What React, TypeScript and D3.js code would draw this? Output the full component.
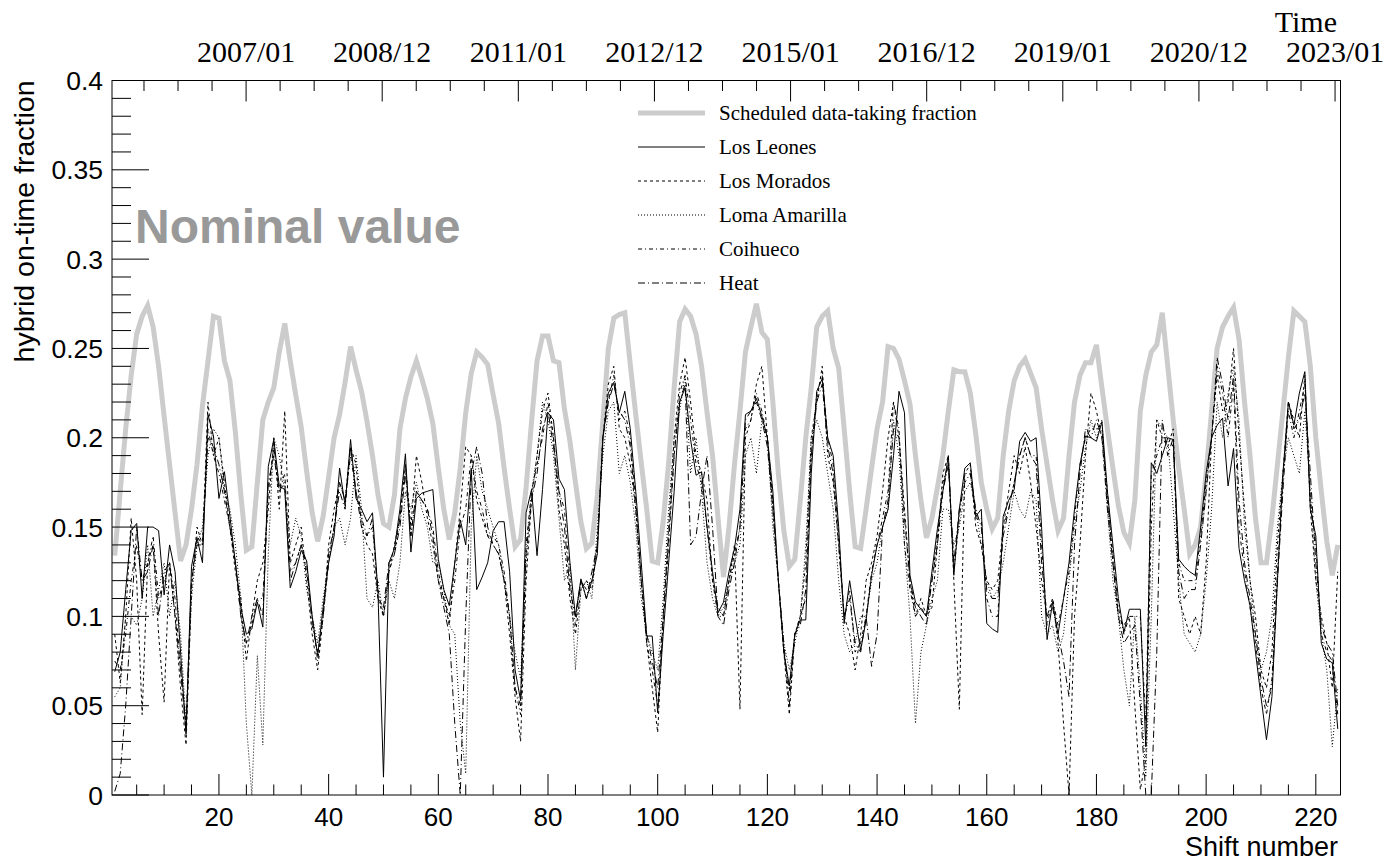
import React from 'react'
import * as d3 from 'd3'

// shift numbers 1..224
const shifts = d3.range(1, 225)

const scheduled = [
  0.134, 0.17, 0.205, 0.235, 0.258, 0.268, 0.274, 0.262, 0.24, 0.212, 0.185, 0.158,
  0.131, 0.14, 0.16, 0.185, 0.218, 0.243, 0.268, 0.267, 0.243, 0.232, 0.203, 0.168,
  0.137, 0.139, 0.175, 0.21, 0.22, 0.228, 0.248, 0.264, 0.243, 0.224, 0.206, 0.181,
  0.158, 0.142, 0.156, 0.178, 0.2, 0.213, 0.231, 0.251, 0.238, 0.226, 0.209, 0.19,
  0.168, 0.152, 0.15, 0.168, 0.205, 0.222, 0.234, 0.243, 0.233, 0.222, 0.208, 0.183,
  0.16, 0.143, 0.158, 0.183, 0.214, 0.236, 0.248, 0.245, 0.241, 0.224, 0.208, 0.183,
  0.16, 0.139, 0.143, 0.172, 0.209, 0.243, 0.257, 0.257, 0.243, 0.242, 0.216, 0.198,
  0.175, 0.153, 0.138, 0.141, 0.168, 0.209, 0.25, 0.267, 0.269, 0.27, 0.241, 0.213,
  0.186, 0.16, 0.131, 0.13, 0.153, 0.186, 0.228, 0.265, 0.272, 0.268, 0.258, 0.24,
  0.214, 0.19, 0.155, 0.122, 0.15, 0.185, 0.215, 0.248, 0.262, 0.275, 0.259, 0.255,
  0.22, 0.18, 0.148, 0.128, 0.132, 0.165, 0.2, 0.228, 0.262, 0.268, 0.271, 0.25,
  0.239, 0.205, 0.17, 0.139, 0.138, 0.16, 0.183, 0.205, 0.22, 0.251, 0.25, 0.244,
  0.232, 0.219, 0.19, 0.165, 0.144, 0.155, 0.172, 0.19, 0.215, 0.238, 0.237, 0.237,
  0.225, 0.202, 0.175, 0.16, 0.149, 0.155, 0.19, 0.215, 0.232, 0.24, 0.244, 0.236,
  0.228, 0.205, 0.185, 0.165, 0.148, 0.155, 0.19, 0.22, 0.235, 0.242, 0.242, 0.252,
  0.228, 0.205, 0.183, 0.162, 0.147, 0.141, 0.165, 0.215, 0.235, 0.248, 0.252, 0.27,
  0.24, 0.21, 0.183, 0.16, 0.135, 0.14, 0.15, 0.18, 0.215, 0.25, 0.262, 0.268,
  0.273, 0.255, 0.22, 0.19, 0.155, 0.13, 0.13, 0.155, 0.185, 0.215, 0.245, 0.271,
  0.268, 0.265, 0.24, 0.2, 0.17, 0.142, 0.123, 0.14
]

const losLeones = [
  0.069, 0.08, 0.115, 0.148, 0.152, 0.11, 0.15, 0.15, 0.148, 0.112, 0.14, 0.125,
  0.08, 0.034, 0.128, 0.144, 0.13, 0.213, 0.201, 0.166, 0.181, 0.156, 0.13, 0.105,
  0.09, 0.093, 0.108, 0.094, 0.184, 0.199, 0.173, 0.171, 0.116, 0.125, 0.137, 0.131,
  0.1, 0.078, 0.105, 0.13, 0.145, 0.183, 0.162, 0.199, 0.166, 0.16, 0.153, 0.158,
  0.113, 0.01, 0.13, 0.138, 0.16, 0.191, 0.136, 0.166, 0.169, 0.17, 0.171, 0.132,
  0.115, 0.106, 0.13, 0.154, 0.14, 0.183, 0.115, 0.122, 0.13, 0.148, 0.153, 0.153,
  0.125, 0.07, 0.053, 0.158, 0.171, 0.134, 0.171, 0.214, 0.21, 0.177, 0.171, 0.13,
  0.1, 0.121, 0.11, 0.12, 0.135, 0.2, 0.225, 0.231, 0.214, 0.226, 0.205, 0.17,
  0.13, 0.089, 0.089, 0.046, 0.09, 0.13, 0.17, 0.22, 0.228, 0.199, 0.179, 0.181,
  0.15, 0.125, 0.102, 0.108, 0.125, 0.138, 0.16, 0.213, 0.215, 0.222, 0.212, 0.2,
  0.17, 0.12, 0.08, 0.061, 0.09, 0.098, 0.098, 0.18, 0.226, 0.233, 0.2, 0.19,
  0.15, 0.096, 0.12, 0.1, 0.081, 0.098, 0.123, 0.14, 0.15, 0.16, 0.19, 0.226,
  0.214, 0.123, 0.108, 0.104, 0.1, 0.125, 0.149, 0.17, 0.19, 0.123, 0.16, 0.183,
  0.186, 0.156, 0.16, 0.096, 0.093, 0.091, 0.156, 0.165, 0.171, 0.198, 0.203, 0.198,
  0.2, 0.15, 0.087, 0.108, 0.09, 0.11, 0.13, 0.16, 0.185, 0.201, 0.2, 0.198,
  0.209, 0.17, 0.14, 0.11, 0.091, 0.104, 0.104, 0.104, 0.027, 0.186, 0.18, 0.19,
  0.2, 0.199, 0.132, 0.128, 0.125, 0.123, 0.15, 0.18, 0.2, 0.207, 0.211, 0.173,
  0.194, 0.138, 0.12, 0.106, 0.08, 0.055, 0.031, 0.055, 0.12, 0.18, 0.22, 0.207,
  0.225, 0.237, 0.16, 0.145, 0.085, 0.076, 0.074, 0.037
]

const losMorados = [
  0.09, 0.063, 0.1, 0.155, 0.12, 0.045, 0.13, 0.14, 0.09, 0.052, 0.13, 0.1,
  0.06, 0.028, 0.115, 0.15, 0.14, 0.22, 0.19, 0.2, 0.175, 0.15, 0.125, 0.11,
  0.075, 0.1, 0.12, 0.13, 0.16, 0.2, 0.16, 0.215, 0.13, 0.14, 0.15, 0.12,
  0.09, 0.07, 0.1, 0.14, 0.16, 0.175, 0.165, 0.195, 0.185, 0.15, 0.14, 0.135,
  0.11, 0.1, 0.125, 0.14, 0.155, 0.185, 0.15, 0.19, 0.175, 0.155, 0.14, 0.12,
  0.11, 0.095, 0.13, 0.16, 0.195, 0.19, 0.165, 0.155, 0.145, 0.14, 0.135, 0.12,
  0.09, 0.055, 0.03, 0.12, 0.165, 0.19, 0.215, 0.225, 0.2, 0.16, 0.14, 0.11,
  0.09, 0.115, 0.12, 0.115, 0.14, 0.2, 0.23, 0.24, 0.205, 0.2, 0.185, 0.16,
  0.12, 0.085, 0.06, 0.035, 0.1, 0.15, 0.2, 0.23, 0.245, 0.22, 0.19, 0.18,
  0.165, 0.12, 0.105, 0.1, 0.12, 0.14, 0.048, 0.2, 0.21, 0.23, 0.24, 0.2,
  0.16, 0.12, 0.08, 0.045, 0.09, 0.1, 0.13, 0.2, 0.22, 0.24, 0.19, 0.175,
  0.14, 0.1, 0.09, 0.07, 0.09, 0.12, 0.13, 0.145, 0.17, 0.2, 0.22, 0.2,
  0.16, 0.12, 0.1, 0.11, 0.1, 0.105, 0.14, 0.18, 0.19, 0.12, 0.048, 0.18,
  0.185, 0.15, 0.14, 0.12, 0.115, 0.12, 0.15, 0.17, 0.19, 0.18, 0.195, 0.175,
  0.15, 0.12, 0.1, 0.11, 0.085, 0.04, 0.0, 0.1, 0.14, 0.19, 0.225, 0.215,
  0.2, 0.17, 0.13, 0.1, 0.095, 0.1, 0.05, 0.003, 0.02, 0.15, 0.21, 0.2,
  0.195, 0.205, 0.11, 0.1, 0.09, 0.1, 0.09, 0.13, 0.2, 0.235, 0.215, 0.22,
  0.25, 0.2, 0.16, 0.12, 0.1, 0.07, 0.06, 0.08, 0.14, 0.18, 0.22, 0.21,
  0.2, 0.235, 0.16, 0.12, 0.1, 0.085, 0.06, 0.125
]

const lomaAmarilla = [
  0.055, 0.06, 0.1, 0.1, 0.095, 0.11, 0.14, 0.1, 0.115, 0.13, 0.1, 0.12,
  0.09, 0.04, 0.11, 0.14, 0.15, 0.19, 0.205, 0.2, 0.17, 0.16, 0.14, 0.11,
  0.04, 0.0, 0.078, 0.028, 0.135, 0.2, 0.19, 0.17, 0.14, 0.155, 0.145, 0.115,
  0.1, 0.085, 0.11, 0.13, 0.15, 0.155, 0.14, 0.155, 0.19, 0.16, 0.11, 0.105,
  0.12, 0.1, 0.12, 0.11, 0.13, 0.17, 0.16, 0.175, 0.16, 0.15, 0.13, 0.13,
  0.115, 0.095, 0.09, 0.04, 0.012, 0.15, 0.19, 0.17, 0.16, 0.15, 0.14, 0.12,
  0.1, 0.08, 0.065, 0.13, 0.17, 0.19, 0.22, 0.21, 0.19, 0.155, 0.12, 0.13,
  0.07, 0.115, 0.12, 0.11, 0.15, 0.19, 0.215, 0.22, 0.18, 0.19, 0.175, 0.15,
  0.11, 0.09, 0.08, 0.07, 0.11, 0.16, 0.2, 0.215, 0.235, 0.18, 0.2, 0.17,
  0.13, 0.11, 0.1, 0.105, 0.12, 0.13, 0.14, 0.19, 0.2, 0.18, 0.21, 0.2,
  0.15, 0.12, 0.085, 0.07, 0.085, 0.1, 0.14, 0.2, 0.21, 0.2, 0.18, 0.16,
  0.12, 0.09, 0.08, 0.085, 0.1, 0.1, 0.12, 0.13, 0.15, 0.16, 0.21, 0.19,
  0.14, 0.1, 0.04, 0.08, 0.095, 0.11, 0.12, 0.16, 0.16, 0.14, 0.15, 0.17,
  0.175, 0.16, 0.14, 0.12, 0.11, 0.115, 0.13, 0.15, 0.17, 0.16, 0.155, 0.17,
  0.165, 0.1, 0.09, 0.095, 0.08, 0.09, 0.12, 0.15, 0.17, 0.195, 0.21, 0.2,
  0.21, 0.16, 0.12, 0.1, 0.07, 0.05, 0.1, 0.06, 0.01, 0.1, 0.21, 0.205,
  0.2, 0.16, 0.12, 0.09, 0.085, 0.08, 0.09, 0.12, 0.16, 0.22, 0.2, 0.225,
  0.24, 0.21, 0.15, 0.12, 0.09, 0.07, 0.08, 0.1, 0.15, 0.18, 0.2, 0.19,
  0.18, 0.215, 0.17, 0.12, 0.09, 0.07, 0.027, 0.06
]

const coihueco = [
  0.075, 0.07, 0.09, 0.12, 0.14, 0.12, 0.13, 0.145, 0.11, 0.12, 0.13, 0.11,
  0.07, 0.04, 0.12, 0.145, 0.14, 0.205, 0.19, 0.18, 0.165, 0.15, 0.13, 0.1,
  0.085, 0.095, 0.11, 0.11, 0.17, 0.195, 0.17, 0.18, 0.125, 0.13, 0.14, 0.125,
  0.1, 0.075, 0.1, 0.13, 0.15, 0.175, 0.165, 0.19, 0.17, 0.155, 0.145, 0.15,
  0.115, 0.1, 0.125, 0.135, 0.155, 0.185, 0.145, 0.17, 0.165, 0.16, 0.15, 0.125,
  0.11, 0.1, 0.12, 0.15, 0.16, 0.19, 0.17, 0.16, 0.145, 0.145, 0.14, 0.125,
  0.1, 0.06, 0.045, 0.14, 0.17, 0.185, 0.2, 0.22, 0.2, 0.17, 0.16, 0.12,
  0.095, 0.12, 0.115, 0.12, 0.14, 0.2, 0.22, 0.235, 0.21, 0.215, 0.2, 0.165,
  0.12, 0.085, 0.07, 0.05, 0.095, 0.14, 0.19, 0.225, 0.235, 0.21, 0.185, 0.175,
  0.15, 0.12, 0.1, 0.1, 0.12, 0.135, 0.15, 0.205, 0.21, 0.225, 0.215, 0.2,
  0.165, 0.12, 0.08, 0.058, 0.09, 0.1, 0.11, 0.19, 0.225, 0.235, 0.2, 0.185,
  0.145, 0.1, 0.115, 0.08, 0.085, 0.1, 0.125, 0.14, 0.155, 0.17, 0.22, 0.205,
  0.14, 0.115, 0.1, 0.105, 0.1, 0.12, 0.145, 0.175, 0.185, 0.125, 0.155, 0.18,
  0.18, 0.155, 0.155, 0.11, 0.1, 0.1, 0.15, 0.16, 0.175, 0.19, 0.2, 0.19,
  0.19, 0.14, 0.095, 0.11, 0.095, 0.11, 0.125, 0.155, 0.185, 0.2, 0.205, 0.205,
  0.205, 0.165, 0.135, 0.105, 0.09, 0.1, 0.1, 0.1, 0.04, 0.18, 0.19, 0.2,
  0.2, 0.195, 0.13, 0.12, 0.12, 0.12, 0.145, 0.175, 0.2, 0.24, 0.225, 0.2,
  0.23, 0.15, 0.125, 0.105, 0.085, 0.06, 0.045, 0.065, 0.125, 0.175, 0.215, 0.2,
  0.215, 0.23, 0.165, 0.14, 0.09, 0.08, 0.075, 0.045
]

const heat = [
  0.002, 0.012, 0.05, 0.1, 0.15, 0.12, 0.125, 0.14, 0.1, 0.125, 0.13, 0.1,
  0.07, 0.035, 0.12, 0.14, 0.14, 0.2, 0.195, 0.185, 0.17, 0.15, 0.13, 0.1,
  0.085, 0.1, 0.11, 0.1, 0.175, 0.19, 0.17, 0.175, 0.12, 0.13, 0.14, 0.13,
  0.095, 0.08, 0.1, 0.135, 0.15, 0.17, 0.16, 0.195, 0.17, 0.15, 0.145, 0.155,
  0.11, 0.105, 0.13, 0.135, 0.15, 0.18, 0.145, 0.17, 0.165, 0.16, 0.145, 0.12,
  0.105, 0.09, 0.04, 0.0, 0.1, 0.18, 0.195, 0.18, 0.15, 0.14, 0.135, 0.12,
  0.1, 0.06, 0.05, 0.135, 0.165, 0.18, 0.205, 0.215, 0.195, 0.17, 0.15, 0.115,
  0.1, 0.12, 0.11, 0.125, 0.14, 0.2, 0.22, 0.23, 0.215, 0.21, 0.195, 0.16,
  0.12, 0.09, 0.075, 0.06, 0.1, 0.145, 0.19, 0.22, 0.23, 0.14, 0.145, 0.17,
  0.19, 0.15, 0.1, 0.095, 0.115, 0.13, 0.15, 0.21, 0.215, 0.22, 0.21, 0.195,
  0.16, 0.12, 0.085, 0.05, 0.09, 0.095, 0.115, 0.19, 0.22, 0.23, 0.195, 0.18,
  0.14, 0.1, 0.11, 0.085, 0.08, 0.1, 0.072, 0.09, 0.15, 0.165, 0.205, 0.2,
  0.155, 0.12, 0.105, 0.1, 0.095, 0.12, 0.14, 0.17, 0.185, 0.13, 0.16, 0.175,
  0.18, 0.16, 0.15, 0.115, 0.11, 0.11, 0.145, 0.16, 0.175, 0.19, 0.2, 0.19,
  0.185, 0.13, 0.1, 0.105, 0.09, 0.075, 0.055, 0.14, 0.18, 0.205, 0.2, 0.21,
  0.2, 0.16, 0.13, 0.1, 0.085, 0.09, 0.095, 0.05, 0.0, 0.0, 0.08, 0.21,
  0.19, 0.2, 0.125, 0.11, 0.115, 0.115, 0.14, 0.17, 0.2, 0.245, 0.23, 0.21,
  0.235, 0.165, 0.13, 0.11, 0.09, 0.065, 0.05, 0.06, 0.12, 0.17, 0.22, 0.205,
  0.21, 0.225, 0.18, 0.13, 0.095, 0.085, 0.08, 0.05
]

const seriesNames = ['Scheduled data-taking fraction', 'Los Leones', 'Los Morados', 'Loma Amarilla', 'Coihueco', 'Heat']
const yTicks = [0, 0.05, 0.1, 0.15, 0.2, 0.25, 0.3, 0.35, 0.4]
const yTickLabels = ['0', '0.05', '0.1', '0.15', '0.2', '0.25', '0.3', '0.35', '0.4']
const xTicks = [20, 40, 60, 80, 100, 120, 140, 160, 180, 200, 220]
const timeTicks = [2007, 2009, 2011, 2013, 2015, 2017, 2019, 2021, 2023]
const timeTickLabels = ['2007/01', '2008/12', '2011/01', '2012/12', '2015/01', '2016/12', '2019/01', '2020/12', '2023/01']

const W = 1387
const H = 865
const plotLeft = 112
const plotRight = 1340.5
const plotTop = 80.5
const plotBottom = 795

const SANS = '"Liberation Sans", Arial, Helvetica, sans-serif'
const SERIF = '"Liberation Serif", "Times New Roman", serif'

const App = () => {
  const x = d3.scaleLinear().domain([0.5, 224.5]).range([plotLeft, plotRight])
  const y = d3.scaleLinear().domain([0, 0.4]).range([plotBottom, plotTop])
  const t = d3.scaleLinear().domain([2005.03, 2023.08]).range([plotLeft, plotRight])

  const line = d3.line<number>()
    .x((d, i) => x(shifts[i]))
    .y(d => y(d))

  const series = [
    { name: seriesNames[0], values: scheduled, color: '#cccccc', width: 5, dash: null },
    { name: seriesNames[1], values: losLeones, color: '#000', width: 1, dash: null },
    { name: seriesNames[2], values: losMorados, color: '#000', width: 1, dash: '3,3' },
    { name: seriesNames[3], values: lomaAmarilla, color: '#000', width: 1, dash: '1,2' },
    { name: seriesNames[4], values: coihueco, color: '#000', width: 1, dash: '4,3,1,3' },
    { name: seriesNames[5], values: heat, color: '#000', width: 1, dash: '7,3,1,3' }
  ]

  const yMinor = d3.range(0, 0.4001, 0.01).filter(v => !yTicks.some(m => Math.abs(m - v) < 1e-6))
  const xMinor = d3.range(5, 225, 5).filter(v => v % 20 !== 0)
  const tMinor = d3.range(2005.5, 2023.01, 0.5).filter(v => !timeTicks.includes(v))

  return (
    <svg width={W} height={H} style={{ position: 'absolute', left: 0, top: 0, background: '#fff' }}>
      <defs>
        <clipPath id='plotClip'>
          <rect x={plotLeft} y={plotTop} width={plotRight - plotLeft} height={plotBottom - plotTop} />
        </clipPath>
      </defs>

      {/* data */}
      <g clipPath='url(#plotClip)' fill='none'>
        {series.map(s => (
          <path key={s.name} d={line(s.values) || ''} stroke={s.color} strokeWidth={s.width}
            strokeDasharray={s.dash || undefined} strokeLinejoin='miter' />
        ))}
      </g>

      {/* frame */}
      <rect x={plotLeft} y={plotTop} width={plotRight - plotLeft} height={plotBottom - plotTop}
        fill='none' stroke='#000' strokeWidth={1} />

      {/* y axis */}
      <g stroke='#000' strokeWidth={1}>
        {yTicks.map(v => <line key={'ym' + v} x1={plotLeft} x2={plotLeft + 37} y1={y(v)} y2={y(v)} />)}
        {yMinor.map(v => <line key={'yn' + v} x1={plotLeft} x2={plotLeft + 19} y1={y(v)} y2={y(v)} />)}
      </g>
      <g fontFamily={SANS} fontSize={26.5} textAnchor='end'>
        {yTicks.map((v, i) => <text key={'yl' + v} x={103} y={y(v)} dy='0.36em'>{yTickLabels[i]}</text>)}
      </g>
      <text transform={`translate(34,${plotTop}) rotate(-90)`} textAnchor='end' fontFamily={SANS} fontSize={28.5}>
        hybrid on-time fraction
      </text>

      {/* bottom axis */}
      <g stroke='#000' strokeWidth={1}>
        {xTicks.map(v => <line key={'xm' + v} x1={x(v)} x2={x(v)} y1={plotBottom} y2={plotBottom - 21} />)}
        {xMinor.map(v => <line key={'xn' + v} x1={x(v)} x2={x(v)} y1={plotBottom} y2={plotBottom - 10.5} />)}
      </g>
      <g fontFamily={SANS} fontSize={26} textAnchor='middle'>
        {xTicks.map(v => <text key={'xl' + v} x={x(v)} y={826}>{v}</text>)}
      </g>
      <text x={1338} y={856} textAnchor='end' fontFamily={SANS} fontSize={27}>Shift number</text>

      {/* top time axis */}
      <g stroke='#000' strokeWidth={1}>
        {timeTicks.map(v => <line key={'tm' + v} x1={t(v)} x2={t(v)} y1={plotTop} y2={plotTop + 21} />)}
        {tMinor.map(v => <line key={'tn' + v} x1={t(v)} x2={t(v)} y1={plotTop} y2={plotTop + 10.5} />)}
      </g>
      <g fontFamily={SERIF} fontSize={30} textAnchor='middle'>
        {timeTicks.map((v, i) => <text key={'tl' + v} x={t(v)} y={62}>{timeTickLabels[i]}</text>)}
      </g>
      <text x={1337} y={32} textAnchor='end' fontFamily={SERIF} fontSize={30}>Time</text>

      {/* annotation */}
      <text x={135} y={243} fontFamily={SANS} fontWeight='bold' fontSize={48} fill='#999999'>Nominal value</text>

      {/* legend */}
      <g>
        {series.map((s, i) => {
          const ry = 113 + i * 34
          return (
            <g key={'lg' + s.name}>
              <line x1={638} x2={705} y1={ry} y2={ry} stroke={s.color} strokeWidth={s.width}
                strokeDasharray={s.dash || undefined} />
              <text x={719} y={ry + 7} fontFamily={SERIF} fontSize={21}>{s.name}</text>
            </g>
          )
        })}
      </g>
    </svg>
  )
}

export default App
